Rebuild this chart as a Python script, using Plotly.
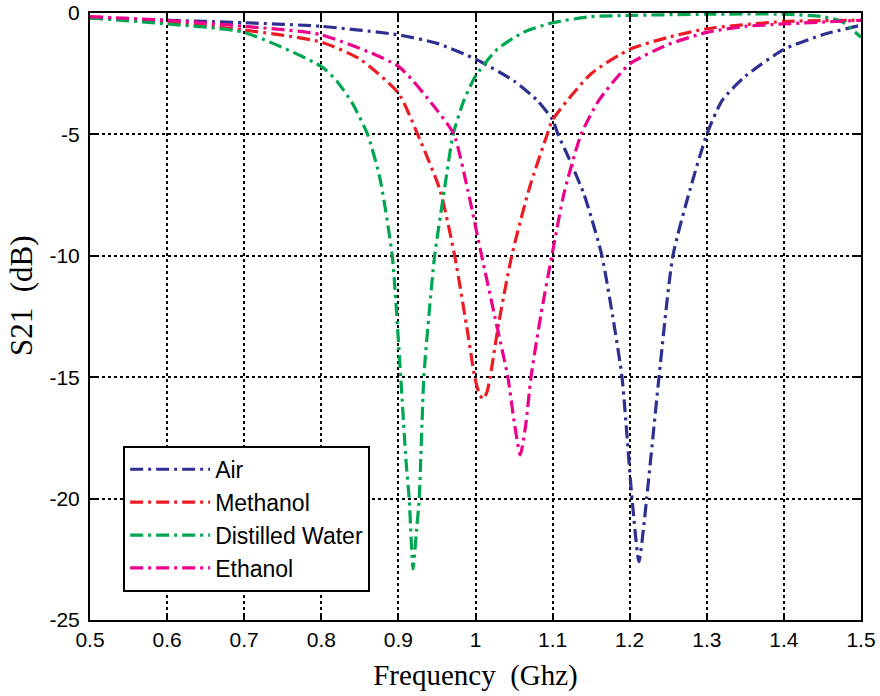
import plotly.graph_objects as go

# S21 transmission response of the sensor for four media under test
air_freq = [0.50, 0.60, 0.70, 0.80, 0.90, 0.95, 1.00, 1.05, 1.08, 1.10, 1.107, 1.12, 1.14, 1.15,
            1.164, 1.178, 1.19, 1.203, 1.212, 1.218, 1.222, 1.23, 1.238, 1.256, 1.278, 1.30,
            1.32, 1.35, 1.40, 1.45, 1.50]
air_s21 = [-0.2, -0.3, -0.4, -0.55, -0.9, -1.25, -1.9, -2.8, -3.6, -4.4, -5.0, -5.9, -7.4, -8.4,
           -10.0, -12.5, -15.0, -20.0, -22.6, -21.2, -20.0, -17.5, -15.0, -10.0, -7.3, -5.0,
           -3.6, -2.6, -1.5, -0.9, -0.5]

methanol_freq = [0.50, 0.60, 0.70, 0.80, 0.85, 0.90, 0.925, 0.954, 0.973, 0.99, 0.999, 1.005,
                 1.010, 1.015, 1.019, 1.03, 1.047, 1.07, 1.093, 1.10, 1.15, 1.20, 1.25, 1.30,
                 1.40, 1.50]
methanol_s21 = [-0.2, -0.4, -0.7, -1.2, -1.9, -3.3, -5.0, -7.3, -10.0, -13.2, -15.0, -15.7,
                -15.9, -15.6, -15.0, -12.8, -10.0, -7.2, -5.0, -4.4, -2.5, -1.5, -1.0, -0.65,
                -0.35, -0.3]

water_freq = [0.50, 0.60, 0.70, 0.80, 0.82, 0.84, 0.860, 0.876, 0.892, 0.903, 0.910, 0.914,
              0.919, 0.923, 0.927, 0.933, 0.940, 0.947, 0.960, 0.971, 0.985, 1.00, 1.028, 1.062,
              1.10, 1.15, 1.20, 1.30, 1.40, 1.45, 1.475, 1.50]
water_s21 = [-0.2, -0.45, -0.8, -2.2, -2.8, -3.7, -5.0, -6.8, -10.0, -15.0, -18.5, -20.0,
             -22.9, -21.5, -20.0, -15.0, -12.3, -10.0, -7.2, -5.0, -3.6, -2.6, -1.5, -0.8,
             -0.4, -0.15, -0.1, -0.05, -0.05, -0.15, -0.35, -1.0]

ethanol_freq = [0.50, 0.60, 0.70, 0.80, 0.90, 0.95, 0.972, 0.99, 1.008, 1.025, 1.042, 1.05,
                1.058, 1.065, 1.072, 1.085, 1.099, 1.115, 1.137, 1.16, 1.20, 1.25, 1.30, 1.35,
                1.40, 1.50]
ethanol_s21 = [-0.15, -0.3, -0.55, -0.9, -2.2, -4.0, -5.0, -7.3, -10.0, -12.5, -15.0, -16.8,
               -18.2, -17.0, -15.0, -12.4, -10.0, -7.4, -5.0, -3.6, -2.1, -1.3, -0.8, -0.55,
               -0.45, -0.3]

series = [
    ("Air", air_freq, air_s21, "#2E3192"),
    ("Methanol", methanol_freq, methanol_s21, "#ED1C24"),
    ("Distilled Water", water_freq, water_s21, "#00A651"),
    ("Ethanol", ethanol_freq, ethanol_s21, "#EC008C"),
]

x_ticks = [0.5, 0.6, 0.7, 0.8, 0.9, 1.0, 1.1, 1.2, 1.3, 1.4, 1.5]
x_labels = ["0.5", "0.6", "0.7", "0.8", "0.9", "1", "1.1", "1.2", "1.3", "1.4", "1.5"]
y_ticks = [-25, -20, -15, -10, -5, 0]
y_labels = ["-25", "-20", "-15", "-10", "-5", "0"]

fig = go.Figure()
for name, f, s, color in series:
    fig.add_trace(go.Scatter(
        x=f, y=s, name=name, mode="lines",
        line=dict(color=color, width=3.2, dash="13px,5px,3px,5px", shape="spline", smoothing=0.6),
    ))

axis_common = dict(
    showline=True, linecolor="black", linewidth=2, mirror="ticks",
    ticks="inside", ticklen=7, tickcolor="black", tickwidth=1.5,
    showgrid=True, gridcolor="black", gridwidth=1.5, griddash="dot",
    zeroline=False, automargin=False,
    tickfont=dict(family="Liberation Sans, Arial, sans-serif", size=21, color="black"),
)

title_font = dict(family="Liberation Serif, Times New Roman, serif", size=29, color="black")

fig.update_layout(
    width=880, height=696,
    margin=dict(l=90, r=19, t=13, b=76),
    paper_bgcolor="white", plot_bgcolor="white",
    showlegend=True,
    legend=dict(
        x=0.043, y=0.287, xanchor="left", yanchor="top",
        bgcolor="white", bordercolor="black", borderwidth=2,
        font=dict(family="Liberation Sans, Arial, sans-serif", size=23, color="black"),
        itemwidth=80,
    ),
    xaxis=dict(
        range=[0.5, 1.5], tickvals=x_ticks, ticktext=x_labels,
        title=dict(text="Frequency  (Ghz)", standoff=14, font=title_font),
        **axis_common,
    ),
    yaxis=dict(
        range=[-25, 0], tickvals=y_ticks, ticktext=y_labels, ticklabelstandoff=4,
        **axis_common,
    ),
    annotations=[dict(
        text="S21  (dB)", textangle=-90, showarrow=False,
        xref="paper", yref="paper", x=-0.088, y=0.534, xanchor="center", yanchor="middle",
        font=dict(family="Liberation Serif, Times New Roman, serif", size=31, color="black"),
    )],
)

fig.write_html("out.html")
